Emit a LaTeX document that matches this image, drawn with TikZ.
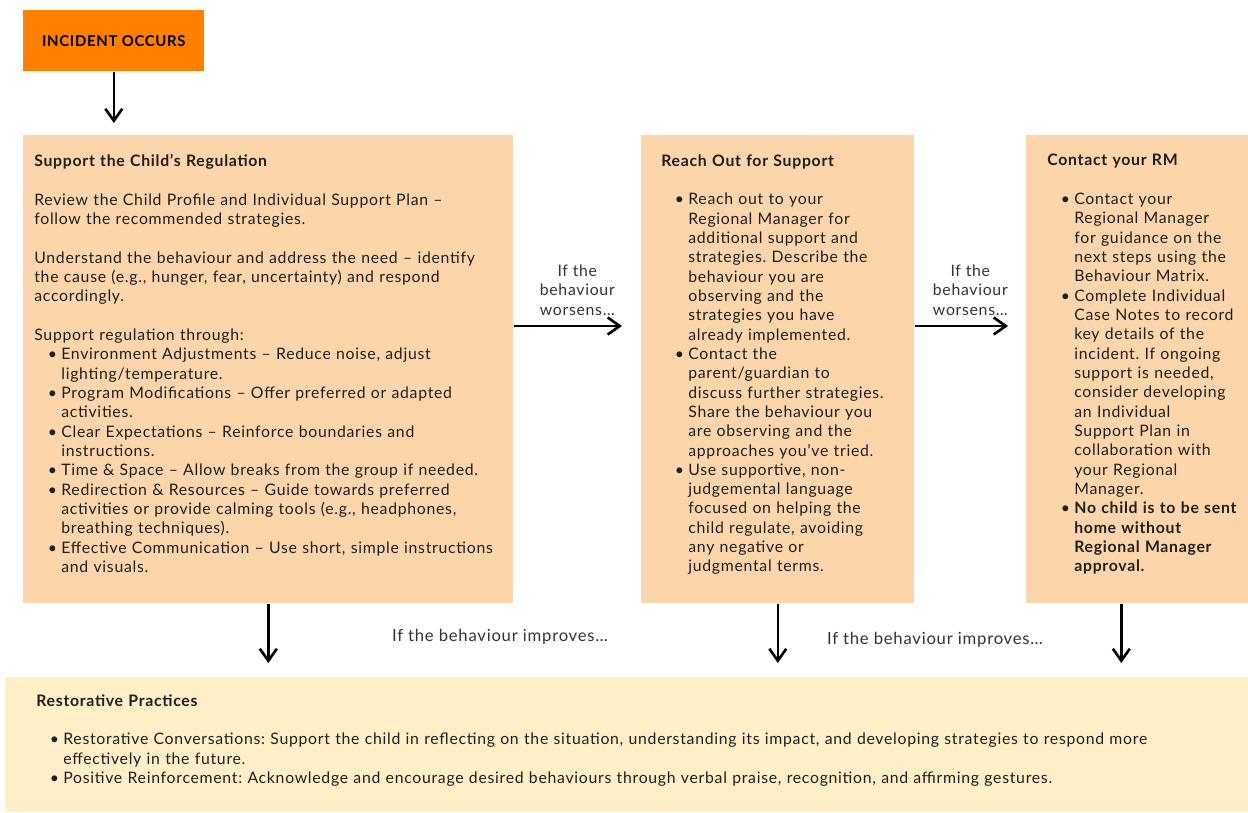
\documentclass[tikz,border=0pt]{standalone}
\usepackage{fontspec}
\setmainfont[LetterSpace=4.5]{Lato}
\usetikzlibrary{arrows.meta,positioning}
\tikzset{>={Straight Barb[length=2.4mm,width=3.4mm]}}
\definecolor{incident}{RGB}{255,128,0}
\definecolor{peach}{RGB}{252,214,170}
\definecolor{cream}{RGB}{254,239,198}
\newcommand{\bul}{\par\hangindent=0.54cm\hangafter=1\noindent\hspace*{0.27cm}\makebox[0.27cm][l]{\textbullet}}
\newcommand{\gap}{\par\vspace{11pt}}
\frenchspacing

\begin{document}
\begin{tikzpicture}[x=0.02cm,y=-0.02cm,
    panel/.style={fill=peach,inner sep=0pt,anchor=north west},
    body/.style={anchor=north west,inner sep=0pt,align=left,text=black!88,
      font=\fontsize{9}{11}\selectfont},
    note/.style={align=center,text=black!80,font=\fontsize{9}{11}\selectfont},
    flow/.style={->,line width=1.5pt}]
  \useasboundingbox (0,0) rectangle (1248,812);
  % boxes
  \node[panel,fill=incident,minimum width=3.62cm,minimum height=1.22cm,
    font=\bfseries\fontsize{8.5}{11}\selectfont] (incident) at (23,10) {INCIDENT OCCURS};
  \node[panel,minimum width=9.8cm,minimum height=9.36cm] (reg) at (23,135) {};
  \node[panel,minimum width=5.46cm,minimum height=9.36cm] (rof) at (641,135) {};
  \node[panel,minimum width=4.44cm,minimum height=9.36cm] (rm) at (1026,135) {};
  \node[panel,fill=cream,minimum width=24.86cm,minimum height=2.7cm] (rp) at (5,677) {};
  % texts
  \node[body,text width=9.6cm] (regtxt) at (34,154) {%
    \textbf{Support the Child’s Regulation}\gap
    Review the Child Profile and Individual Support Plan –\newline follow the recommended strategies.\gap
    Understand the behaviour and address the need – identify\newline the cause (e.g., hunger, fear, uncertainty) and respond\newline accordingly.\gap
    Support regulation through:
    \bul Environment Adjustments – Reduce noise, adjust\newline lighting/temperature.
    \bul Program Modifications – Offer preferred or adapted\newline activities.
    \bul Clear Expectations – Reinforce boundaries and\newline instructions.
    \bul Time \& Space – Allow breaks from the group if needed.
    \bul Redirection \& Resources – Guide towards preferred\newline activities or provide calming tools (e.g., headphones,\newline breathing techniques).
    \bul Effective Communication – Use short, simple instructions\newline and visuals.\par};
  \node[body,text width=5.3cm] (roftxt) at (661,154) {%
    \textbf{Reach Out for Support}\gap
    \bul Reach out to your\newline Regional Manager for\newline additional support and\newline strategies. Describe the\newline behaviour you are\newline observing and the\newline strategies you have\newline already implemented.
    \bul Contact the\newline parent/guardian to\newline discuss further strategies.\newline Share the behaviour you\newline are observing and the\newline approaches you’ve tried.
    \bul Use supportive, non-\newline judgemental language\newline focused on helping the\newline child regulate, avoiding\newline any negative or\newline judgmental terms.\par};
  \node[body,text width=4.3cm] (rmtxt) at (1047,154) {%
    \textbf{Contact your RM}\gap
    \bul Contact your\newline Regional Manager\newline for guidance on the\newline next steps using the\newline Behaviour Matrix.
    \bul Complete Individual\newline Case Notes to record\newline key details of the\newline incident. If ongoing\newline support is needed,\newline consider developing\newline an Individual\newline Support Plan in\newline collaboration with\newline your Regional\newline Manager.
    \bul \textbf{No child is to be sent\newline home without\newline Regional Manager\newline approval.}\par};
  \node[body,text width=23.6cm] (rptxt) at (36,694) {%
    \textbf{Restorative Practices}\gap
    \bul Restorative Conversations: Support the child in reflecting on the situation, understanding its impact, and developing strategies to respond more\newline effectively in the future.
    \bul Positive Reinforcement: Acknowledge and encourage desired behaviours through verbal praise, recognition, and affirming gestures.\par};
  % connectors
  \coordinate (lvl) at (0,326);
  \coordinate (rmdown) at ([xshift=-0.32cm]rm.south);
  \draw[flow,shorten >=0.24cm] (incident.south) -- (incident.south |- reg.north);
  \draw[flow,shorten >=0.38cm] (reg.east |- lvl) -- node[note,above=2pt] {If the\\behaviour\\worsens…} (rof.west |- lvl);
  \draw[flow,shorten >=0.36cm] (rof.east |- lvl) -- node[note,above=2pt] {If the\\behaviour\\worsens…} (rm.west |- lvl);
  \draw[flow,shorten >=0.28cm] (reg.south) -- (reg.south |- rp.north);
  \draw[flow,shorten >=0.28cm] (rof.south) -- (rof.south |- rp.north);
  \draw[flow,shorten >=0.28cm] (rmdown) -- (rmdown |- rp.north);
  \node[note,font=\fontsize{9.5}{11}\selectfont] (better1) at (500,637) {If the behaviour improves…};
  \node[note,font=\fontsize{9.5}{11}\selectfont] (better2) at (935,640) {If the behaviour improves…};
\end{tikzpicture}
\end{document}
